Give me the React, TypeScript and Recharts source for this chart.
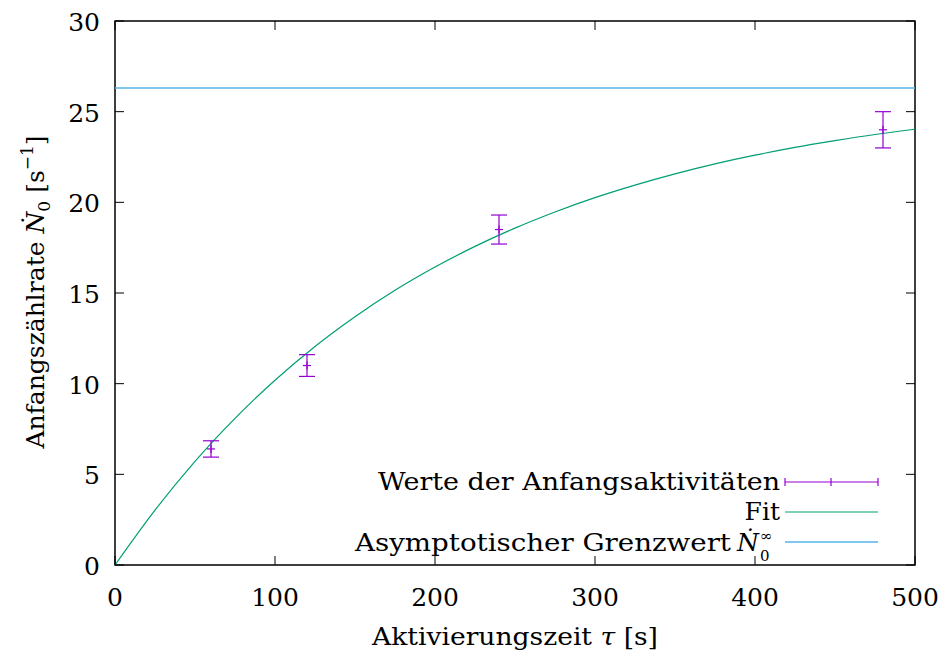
import { ComposedChart, Line, Scatter, ErrorBar, XAxis, YAxis, ReferenceLine, ReferenceArea } from 'recharts';

// measured initial rates
const measTimes = [60, 120, 240, 480];
const measRates = [6.4, 11.0, 18.5, 24.0];
const measErrors = [0.45, 0.6, 0.8, 1.0];

// fit curve
const fitTimes = [0, 25, 50, 75, 100, 125, 150, 175, 200, 225, 250, 275, 300, 325, 350, 375, 400, 425, 450, 475, 500];
const fitRates = [0, 3.03, 5.72, 8.09, 10.19, 12.05, 13.69, 15.15, 16.43, 17.57, 18.58, 19.47, 20.26, 20.95, 21.57, 22.12, 22.6, 23.03, 23.4, 23.74, 24.03];

const asymptote = 26.3;

const xTicks = [0, 100, 200, 300, 400, 500];
const yTicks = [0, 5, 10, 15, 20, 25, 30];

const fitData = fitTimes.map((x, i) => ({ x, fit: fitRates[i] }));
const measData = measTimes.map((x, i) => ({ x, y: measRates[i], err: measErrors[i] }));

const W = 941;
const H = 657;
const PL = 115;
const PR = 915;
const PT = 21;
const PB = 565;
const txt = { fontFamily: "'DejaVu Serif', 'Liberation Serif', serif" };
const PURPLE = '#9400d3';
const GREEN = '#009e73';
const BLUE = '#56b4e9';

const XTick = (props: any) => {
  const { x, payload } = props;
  return (
    <g>
      <line x1={x} x2={x} y1={PB} y2={PB - 9} stroke="#000" strokeWidth={1} />
      <line x1={x} x2={x} y1={PT} y2={PT + 9} stroke="#000" strokeWidth={1} />
      <text x={x} y={606} textAnchor="middle" style={txt} fontSize={25} fill="#000">
        {payload.value}
      </text>
    </g>
  );
};

const YTick = (props: any) => {
  const { y, payload } = props;
  return (
    <g>
      <line x1={PL} x2={PL + 9} y1={y} y2={y} stroke="#000" strokeWidth={1} />
      <line x1={PR} x2={PR - 9} y1={y} y2={y} stroke="#000" strokeWidth={1} />
      <text x={100} y={y + 10} textAnchor="end" style={txt} fontSize={25} fill="#000">
        {payload.value}
      </text>
    </g>
  );
};

const PlusPoint = (props: any) => {
  const { cx, cy } = props;
  return (
    <g>
      <line x1={cx - 4} x2={cx + 4} y1={cy} y2={cy} stroke={PURPLE} strokeWidth={1.2} />
      <line x1={cx} x2={cx} y1={cy - 4} y2={cy + 4} stroke={PURPLE} strokeWidth={1.2} />
    </g>
  );
};

const LegendBox = () => (
  <svg width={W} height={H} style={{ position: 'absolute', left: 0, top: 0, pointerEvents: 'none' }}>
    <g style={txt} fontSize={25} fill="#000">
      <text x={378} y={490} textLength={402} lengthAdjust="spacingAndGlyphs">Werte der Anfangsaktivitäten</text>
      <text x={780} y={520} textAnchor="end">Fit</text>
      <text x={355} y={551} textLength={376} lengthAdjust="spacingAndGlyphs">Asymptotischer Grenzwert</text>
      <text x={737} y={551} fontStyle="italic">Ṅ</text>
      <text x={760} y={561} fontSize={15}>0</text>
      <text x={760} y={541} fontSize={15}>∞</text>
    </g>
    <line x1={785} x2={878} y1={482} y2={482} stroke={PURPLE} strokeWidth={1.2} />
    <line x1={785} x2={785} y1={478} y2={486} stroke={PURPLE} strokeWidth={1.2} />
    <line x1={878} x2={878} y1={478} y2={486} stroke={PURPLE} strokeWidth={1.2} />
    <line x1={831} x2={831} y1={478} y2={486} stroke={PURPLE} strokeWidth={1.2} />
    <line x1={785} x2={878} y1={512} y2={512} stroke={GREEN} strokeWidth={1.2} />
    <line x1={785} x2={878} y1={542} y2={542} stroke={BLUE} strokeWidth={1.5} />
  </svg>
);

export default function App() {
  return (
    <div style={{ position: 'absolute', left: 0, top: 0, width: W, height: H, background: '#fff' }}>
      <ComposedChart
        width={W}
        height={H}
        data={fitData}
        margin={{ top: PT, right: W - PR, bottom: 0, left: 0 }}
      >
        <XAxis
          dataKey="x"
          type="number"
          domain={[0, 500]}
          ticks={xTicks}
          height={H - PB}
          axisLine={false}
          tickLine={false}
          tick={<XTick />}
          interval={0}
        />
        <YAxis
          type="number"
          domain={[0, 30]}
          ticks={yTicks}
          width={PL}
          axisLine={false}
          tickLine={false}
          tick={<YTick />}
          interval={0}
        />
        <ReferenceLine y={asymptote} stroke={BLUE} strokeWidth={1.5} />
        <Line
          dataKey="fit"
          type="monotone"
          stroke={GREEN}
          strokeWidth={1.2}
          dot={false}
          isAnimationActive={false}
        />
        <Scatter data={measData} dataKey="y" shape={<PlusPoint />} isAnimationActive={false}>
          <ErrorBar dataKey="err" direction="y" width={8} stroke={PURPLE} strokeWidth={1.2} isAnimationActive={false} />
        </Scatter>
        <ReferenceArea x1={0} x2={500} y1={0} y2={30} fill="none" fillOpacity={0} stroke="#000" strokeWidth={1.5} />
      </ComposedChart>
      <svg width={W} height={H} style={{ position: 'absolute', left: 0, top: 0, pointerEvents: 'none' }}>
        <text x={515} y={645} textAnchor="middle" style={txt} fontSize={25} fill="#000" textLength={286} lengthAdjust="spacingAndGlyphs">
          Aktivierungszeit <tspan fontStyle="italic">τ</tspan> [s]
        </text>
        <text
          x={0}
          y={0}
          transform="translate(44 292) rotate(-90)"
          textAnchor="middle"
          style={txt}
          fontSize={25}
          fill="#000"
        >
          Anfangszählrate <tspan fontStyle="italic">Ṅ</tspan>
          <tspan fontSize={17} dy={6}>0</tspan>
          <tspan dy={-6}> [s</tspan>
          <tspan fontSize={17} dy={-11}>−1</tspan>
          <tspan dy={11}>]</tspan>
        </text>
      </svg>
      <LegendBox />
    </div>
  );
}
